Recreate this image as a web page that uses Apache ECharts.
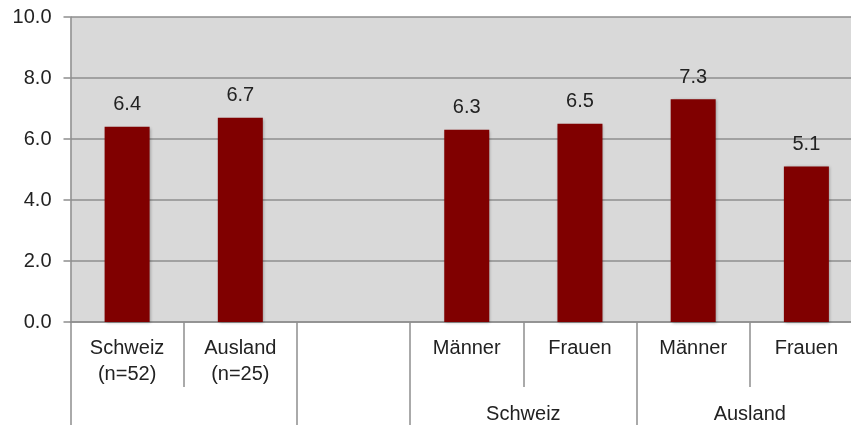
<!DOCTYPE html>
<html>
<head>
<meta charset="utf-8">
<script src="https://cdn.jsdelivr.net/npm/echarts@6/dist/echarts.min.js"></script>
<style>html,body{margin:0;padding:0;background:#fff}#c{width:851px;height:425px}</style>
</head>
<body>
<div id="c"></div>
<script>
var categories = ['Schweiz\n(n=52)', 'Ausland\n(n=25)', '', 'Männer', 'Frauen', 'Männer', 'Frauen'];
var values = [6.4, 6.7, null, 6.3, 6.5, 7.3, 5.1];
var groupLabels = ['Schweiz', 'Ausland'];
var groupLabelPositions = [4, 6];
var groupBoundaries = [0, 2, 3, 5];
var innerBoundaries = [1, 4, 6];
var yTicks = [0, 2, 4, 6, 8, 10];

var FONT = 'Liberation Sans';
var TXT = '#222';
var GRID = '#8e8e8e';
var FS = 20;
var chart = echarts.init(document.getElementById('c'));
chart.setOption({
  animation: false,
  textStyle: { fontFamily: FONT },
  grid: { left: 70.5, top: 17, bottom: 103, right: -12, show: true, backgroundColor: '#d9d9d9', borderWidth: 0, outerBoundsMode: 'none', containLabel: false },
  xAxis: [
    {
      type: 'category', data: categories, position: 'bottom',
      axisLine: { show: true, lineStyle: { color: GRID, width: 1.5 } },
      axisTick: { show: false },
      axisLabel: { interval: 0, margin: 13, color: TXT, fontSize: FS, lineHeight: 26, fontFamily: FONT, verticalAlign: 'top' }
    },
    {
      type: 'value', min: 0, max: 7, position: 'bottom', gridIndex: 0,
      axisLine: { show: false },
      splitLine: { show: false },
      axisTick: { show: true, inside: false, length: 65, customValues: innerBoundaries, lineStyle: { color: GRID, width: 1.5 } },
      axisLabel: { show: false }
    },
    {
      type: 'value', min: 0, max: 7, position: 'bottom', gridIndex: 0,
      axisLine: { show: false },
      splitLine: { show: false },
      axisTick: { show: true, inside: false, length: 103, customValues: groupBoundaries, lineStyle: { color: GRID, width: 1.5 } },
      axisLabel: {
        show: true, customValues: groupLabelPositions, margin: 82, color: TXT, fontSize: FS, fontFamily: FONT,
        formatter: function (v) { var i = groupLabelPositions.indexOf(v); return i >= 0 ? groupLabels[i] : ''; }
      }
    }
  ],
  yAxis: {
    type: 'value', min: yTicks[0], max: yTicks[yTicks.length - 1], interval: 2,
    axisLine: { show: true, lineStyle: { color: GRID, width: 1.5 } },
    axisTick: { show: true, length: 7, lineStyle: { color: GRID, width: 1.5 } },
    splitLine: { show: true, lineStyle: { color: GRID, width: 1.5 } },
    axisLabel: { margin: 19, color: TXT, fontSize: FS, fontFamily: FONT, formatter: function (v) { return v.toFixed(1); } }
  },
  series: [{
    type: 'bar', xAxisIndex: 0, data: values, barWidth: 45,
    itemStyle: { color: '#800000', shadowBlur: 3, shadowColor: 'rgba(0,0,0,0.3)', shadowOffsetX: 1, shadowOffsetY: 1 },
    label: { show: true, position: 'top', distance: 12, color: TXT, fontSize: FS, fontFamily: FONT, formatter: function (p) { return p.value == null ? '' : p.value.toFixed(1); } }
  }]
});
</script>
</body>
</html>
